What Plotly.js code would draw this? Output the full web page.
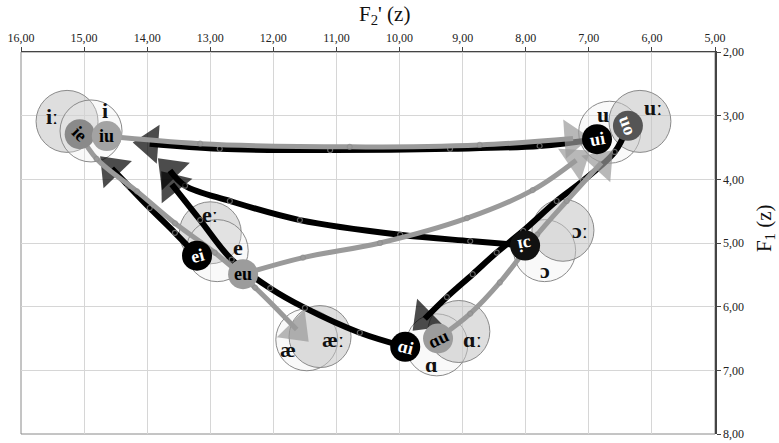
<!DOCTYPE html>
<html>
<head>
<meta charset="utf-8">
<script src="https://cdn.plot.ly/plotly-3.0.1.min.js"></script>
<style>
  html, body { margin: 0; padding: 0; background: #fff; }
  #chart { width: 779px; height: 443px; }
</style>
</head>
<body>
<div id="chart"></div>
<script>
// Monophthongs: mean F2' (x) and F1 (y), Bark scale
const monoLabels = ['iː', 'i', 'eː', 'e', 'æ', 'æː', 'ɑ', 'ɑː', 'ɔ', 'ɔː', 'u', 'uː'];
const monoF2 = [15.27, 14.89, 13.00, 12.89, 11.47, 11.26, 9.41, 9.06, 7.70, 7.41, 6.67, 6.19];
const monoF1 = [3.09, 3.24, 4.84, 5.12, 6.52, 6.47, 6.60, 6.39, 5.12, 4.80, 3.26, 3.09];

// Diphthong trajectories (onset first, offset last)
const diphLabels = ['ui', 'ɔi', 'ɑi', 'ei', 'uo', 'ie', 'iu', 'eu', 'ɑu'];
const diphF2 = [
  [6.87, 7.78, 9.20, 11.10, 12.85, 13.96],
  [8.01, 8.88, 9.99, 11.58, 12.69, 13.40, 13.64],
  [9.91, 10.63, 11.50, 12.05, 12.66, 13.16, 13.61],
  [13.21, 13.56, 13.96, 14.30, 14.56],
  [6.38, 6.59, 7.09, 7.51, 8.04, 8.46, 8.84, 9.25, 9.60],
  [15.07, 14.80, 14.16, 13.56, 12.93, 12.29, 11.63],
  [14.64, 13.16, 10.79, 8.73, 7.25],
  [12.48, 11.53, 10.31, 8.93, 7.89, 7.20],
  [9.39, 8.88, 8.41, 7.82, 7.35, 6.80]
];
const diphF1 = [
  [3.37, 3.475, 3.52, 3.54, 3.52, 3.44],
  [5.04, 4.97, 4.87, 4.64, 4.34, 4.10, 3.86],
  [6.63, 6.41, 6.02, 5.71, 5.26, 4.64, 4.08],
  [5.20, 4.84, 4.45, 4.10, 3.83],
  [3.16, 3.57, 4.02, 4.34, 4.81, 5.15, 5.49, 5.85, 6.19],
  [3.29, 3.68, 4.19, 4.69, 5.15, 5.70, 6.36],
  [3.32, 3.44, 3.49, 3.46, 3.36],
  [5.49, 5.23, 5.00, 4.61, 4.17, 3.70],
  [6.50, 6.11, 5.62, 4.87, 4.34, 3.74]
];

// ---- styling ----
const serif = 'Liberation Serif, DejaVu Serif, Times New Roman, serif';
// label offsets (px) relative to the circle centre
const monoLabelShift = [[-15, 5], [14, 20], [0, 18], [21, 3], [-19, -10], [13, -3],
                        [-5, -20], [14, -8], [0, -20], [17, 0], [-7, 18], [13, 14]];
const diphStyle = {
  'ui': { line: '#000', fill: '#000', text: '#fff', angle: -10 },
  'ɔi': { line: '#000', fill: '#111', text: '#fff', angle: 170 },
  'ɑi': { line: '#000', fill: '#000', text: '#fff', angle: 15 },
  'ei': { line: '#000', fill: '#000', text: '#fff', angle: -15 },
  'uo': { line: '#000', fill: '#555', text: '#fff', angle: 70 },
  'ie': { line: '#9a9a9a', fill: '#8a8a8a', text: '#000', angle: 45 },
  'iu': { line: '#9a9a9a', fill: '#a3a3a3', text: '#000', angle: 0 },
  'eu': { line: '#9a9a9a', fill: '#9c9c9c', text: '#000', angle: 0 },
  'ɑu': { line: '#9a9a9a', fill: '#9c9c9c', text: '#000', angle: -25 }
};

const traces = [];

// vowel-space circles
traces.push({
  type: 'scatter', mode: 'markers', x: monoF2, y: monoF1,
  hoverinfo: 'text', text: monoLabels,
  marker: {
    size: 62,
    color: monoLabels.map(l => l.endsWith('ː') ? 'rgba(195,195,195,0.55)' : 'rgba(235,235,235,0.3)'),
    line: { color: '#8a8a8a', width: 1 }
  },
  showlegend: false
});

// trajectories with measurement points and an arrowhead at the offset
diphLabels.forEach((lab, i) => {
  const st = diphStyle[lab];
  const n = diphF2[i].length;
  const black = st.line === '#000';
  traces.push({
    type: 'scatter', mode: 'lines+markers',
    x: diphF2[i], y: diphF1[i],
    line: { color: st.line, width: black ? 6 : 5, shape: 'spline', smoothing: 1 },
    marker: {
      symbol: diphF2[i].map((v, k) => k === n - 1 ? 'triangle-up' : 'circle-open'),
      size: diphF2[i].map((v, k) => k === n - 1 ? 34 : 5),
      angleref: 'previous',
      color: diphF2[i].map((v, k) => k === n - 1 ? st.line : '#8c8c8c'),
      line: { width: diphF2[i].map((v, k) => k === n - 1 ? 0 : 1.2) }
    },
    hoverinfo: 'skip', showlegend: false
  });
});

// onset circles of the diphthongs
traces.push({
  type: 'scatter', mode: 'markers',
  x: diphF2.map(a => a[0]), y: diphF1.map(a => a[0]),
  marker: {
    size: 30,
    color: diphLabels.map(l => diphStyle[l].fill),
    line: { width: 0 }
  },
  hoverinfo: 'skip', showlegend: false
});

const annotations = [];
monoLabels.forEach((l, i) => {
  annotations.push({
    x: monoF2[i], y: monoF1[i], xref: 'x', yref: 'y', text: l, showarrow: false,
    xshift: monoLabelShift[i][0], yshift: monoLabelShift[i][1],
    font: { family: serif, size: 22, color: '#111', weight: 'bold' }
  });
});
diphLabels.forEach((l, i) => {
  const st = diphStyle[l];
  annotations.push({
    x: diphF2[i][0], y: diphF1[i][0], xref: 'x', yref: 'y', text: l, showarrow: false,
    textangle: st.angle,
    font: { family: serif, size: 18, color: st.text, weight: 'bold' }
  });
});
// axis titles
annotations.push({
  x: 0.524, y: 1.096, xref: 'paper', yref: 'paper', showarrow: false,
  text: "F<sub>2</sub>' (z)", xanchor: 'center', yanchor: 'middle',
  font: { family: serif, size: 21, color: '#111' }
});
annotations.push({
  x: 1.072, y: 0.539, xref: 'paper', yref: 'paper', showarrow: false,
  text: 'F<sub>1</sub> (z)', textangle: -90, xanchor: 'center', yanchor: 'middle',
  font: { family: serif, size: 21, color: '#111' }
});

const axisCommon = {
  dtick: 1, tickformat: '.2f', showgrid: true, gridcolor: '#d6d6d6', gridwidth: 1,
  zeroline: false, showline: true, linecolor: '#444', linewidth: 1.5,
  ticks: 'outside', ticklen: 4, tickcolor: '#444', automargin: false,
  tickfont: { family: serif, size: 12, color: '#222' }, fixedrange: true
};

const layout = {
  width: 779, height: 443,
  margin: { l: 21, r: 64, t: 52, b: 9 },
  paper_bgcolor: '#fff', plot_bgcolor: '#fff',
  separators: ',.',
  showlegend: false,
  xaxis: Object.assign({}, axisCommon, { range: [16, 5], side: 'top', tick0: 5 }),
  yaxis: Object.assign({}, axisCommon, { range: [8, 2], side: 'right', tick0: 2 }),
  shapes: [{
    type: 'rect', xref: 'paper', yref: 'paper', x0: 0, x1: 1, y0: 0, y1: 1,
    line: { color: '#8a8a8a', width: 1 }, layer: 'below'
  }],
  annotations: annotations
};

Plotly.newPlot('chart', traces, layout, { displayModeBar: false, staticPlot: true });
</script>
</body>
</html>
